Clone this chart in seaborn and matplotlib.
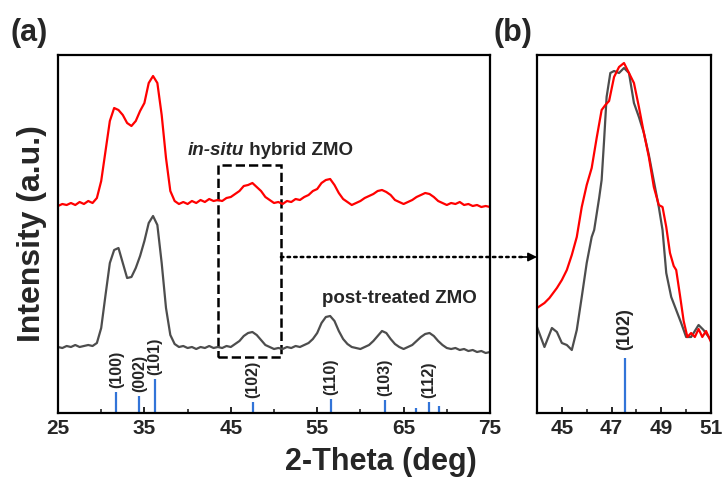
import numpy as np
import pandas as pd
import matplotlib
matplotlib.use("Agg")
import matplotlib.pyplot as plt
import seaborn as sns
from matplotlib.patches import Rectangle, ConnectionPatch
from matplotlib.ticker import FixedLocator

# panel (a): full scan, 25-75 deg in 0.5 deg steps
two_theta = np.arange(25.0, 75.01, 0.5)

hybrid_zmo = [207, 209, 208, 210, 208, 211, 209, 212, 210, 215,
              232, 262, 292, 305, 303, 298, 290, 287, 292, 302,
              310, 330, 337, 330, 298, 255, 222, 212, 209, 211,
              209, 212, 210, 213, 211, 214, 212, 213, 212, 215,
              216, 219, 222, 227, 228, 230, 226, 222, 216, 213,
              210, 211, 209, 212, 211, 214, 213, 216, 218, 222,
              224, 230, 233, 234, 228, 220, 214, 211, 208, 210,
              212, 215, 217, 219, 222, 223, 221, 218, 213, 211,
              209, 211, 213, 216, 218, 220, 219, 216, 212, 210,
              208, 210, 209, 211, 208, 209, 207, 208, 206, 207, 206]

post_zmo = [66, 65, 67, 66, 68, 66, 67, 68, 67, 70,
            85, 118, 150, 163, 165, 150, 135, 136, 145, 157,
            172, 190, 197, 188, 150, 105, 78, 69, 66, 67,
            65, 66, 64, 66, 65, 67, 65, 66, 65, 67,
            66, 69, 72, 77, 80, 81, 78, 73, 68, 66,
            64, 65, 64, 66, 65, 67, 66, 68, 70, 74,
            80, 90, 96, 97, 92, 82, 74, 69, 66, 65,
            64, 66, 68, 72, 77, 82, 80, 74, 69, 66,
            64, 66, 68, 72, 76, 79, 80, 77, 72, 68,
            65, 64, 65, 63, 64, 62, 63, 61, 62, 60, 61]

# reference ZnO reflections
ref_pos = [31.77, 34.42, 36.25, 47.54, 56.60, 62.86, 66.38, 67.96, 69.10]
ref_height = [21, 17, 34, 11, 14, 13, 5, 11, 7]
ref_label = ['(100)', '(002)', '(101)', '(102)', '(110)', '(103)', '', '(112)', '']

# panel (b): zoom on the (102) peak
zoom_x_red = [44.0, 44.3, 44.5, 44.8, 45.0, 45.2, 45.4, 45.6, 45.8, 46.0,
              46.2, 46.4, 46.6, 46.75, 46.9, 47.1, 47.3, 47.5, 47.7, 47.9,
              48.1, 48.3, 48.5, 48.7, 48.9, 49.05, 49.2, 49.35, 49.5, 49.6,
              49.75, 49.9, 50.05, 50.2, 50.35, 50.5, 50.65, 50.8, 51.0]
zoom_y_red = [105, 110, 115, 125, 133, 143, 158, 176, 206, 228,
              245, 275, 303, 308, 312, 336, 346, 350, 340, 330,
              306, 280, 256, 226, 208, 206, 186, 160, 147, 143,
              118, 92, 76, 80, 76, 84, 76, 82, 71]

zoom_x_gray = [44.0, 44.3, 44.6, 44.8, 45.0, 45.2, 45.4, 45.6, 45.8, 46.0,
               46.2, 46.3, 46.5, 46.6, 46.7, 46.8, 46.95, 47.1, 47.3, 47.5,
               47.7, 47.9, 48.1, 48.3, 48.5, 48.7, 48.9, 49.05, 49.2, 49.4,
               49.6, 49.8, 50.0, 50.2, 50.35, 50.5, 50.7, 50.85, 51.0]
zoom_y_gray = [86, 66, 85, 81, 70, 68, 63, 83, 116, 150,
               176, 183, 215, 233, 273, 316, 340, 342, 340, 345,
               340, 310, 296, 280, 258, 232, 206, 183, 140, 116,
               103, 90, 76, 76, 82, 88, 83, 78, 73]

zoom_ref_pos = [47.54]
zoom_ref_height = [55]

RED = '#ff0000'
GRAY = '#4d4d4d'
BLUE = '#3274d8'

sns.set_style('ticks')
plt.rcParams['font.family'] = ['Liberation Sans', 'DejaVu Sans']
plt.rcParams['font.weight'] = 'bold'

fig = plt.figure(figsize=(7.25, 4.79), dpi=100)
ax1 = fig.add_axes([58/725, 66/479, 432/725, 358/479])
ax2 = fig.add_axes([537/725, 66/479, 174/725, 358/479])

df_a = pd.DataFrame({'2theta': two_theta, 'hybrid': hybrid_zmo, 'post': post_zmo})
sns.lineplot(data=df_a, x='2theta', y='hybrid', ax=ax1, color=RED, lw=1.6)
sns.lineplot(data=df_a, x='2theta', y='post', ax=ax1, color=GRAY, lw=1.6)

ax1.vlines(ref_pos, 0, ref_height, color=BLUE, lw=1.6)
for p, h, lab in zip(ref_pos, ref_height, ref_label):
    if lab:
        ax1.annotate(lab, (p, h), xytext=(0, 3), textcoords='offset points',
                     rotation=90, ha='center', va='bottom', fontsize=11.5,
                     fontweight='bold')

ax1.add_patch(Rectangle((43.5, 56), 7.3, 192, fill=False, ls='--', lw=1.8,
                        color='black'))

ax1.text(46.5, 258, 'in-situ', ha='right', va='baseline', fontsize=13.5,
         fontweight='bold', fontstyle='italic')
ax1.text(46.5, 258, ' hybrid ZMO', ha='left', va='baseline', fontsize=13.5,
         fontweight='bold')
ax1.text(55.6, 110, 'post-treated ZMO', ha='left', va='baseline', fontsize=13.5,
         fontweight='bold')

ax1.set_xlim(25, 75)
ax1.set_ylim(0, 358)
ax1.set_xticks([25, 35, 45, 55, 65, 75])
ax1.xaxis.set_minor_locator(FixedLocator([30, 40, 50, 60, 70]))
ax1.set_yticks([])
ax1.set_xlabel('')
ax1.set_ylabel('Intensity (a.u.)', fontsize=23, fontweight='bold', labelpad=8)

sns.lineplot(x=zoom_x_gray, y=zoom_y_gray, ax=ax2, color=GRAY, lw=1.6)
sns.lineplot(x=zoom_x_red, y=zoom_y_red, ax=ax2, color=RED, lw=1.6)
ax2.vlines(zoom_ref_pos, 0, zoom_ref_height, color=BLUE, lw=1.6)
ax2.annotate('(102)', (zoom_ref_pos[0], zoom_ref_height[0]), xytext=(0, 6),
             textcoords='offset points', rotation=90, ha='center', va='bottom',
             fontsize=13, fontweight='bold')
ax2.set_xlim(44, 51)
ax2.set_ylim(0, 358)
ax2.set_xticks([45, 47, 49, 51])
ax2.xaxis.set_minor_locator(FixedLocator([46, 48, 50]))
ax2.set_yticks([])
ax2.set_xlabel('')
ax2.set_ylabel('')

for ax in (ax1, ax2):
    for s in ax.spines.values():
        s.set_visible(True)
        s.set_linewidth(1.6)
        s.set_color('black')
    ax.tick_params(axis='x', which='major', direction='in', length=4, width=1.4,
                   labelsize=15, pad=4)
    ax.tick_params(axis='x', which='minor', direction='in', length=3, width=1.2)
    for t in ax.get_xticklabels():
        t.set_fontweight('bold')

# dotted link from the box to panel (b), solid head at the end
link = ConnectionPatch(xyA=(50.8, 156), coordsA=ax1.transData,
                       xyB=(0, 156/358), coordsB=ax2.transAxes,
                       arrowstyle='-', ls=':', lw=1.8, color='black', shrinkB=8)
fig.add_artist(link)
ax2.annotate('', xy=(0, 156/358), xycoords='axes fraction',
             xytext=(-11, 0), textcoords='offset points', annotation_clip=False,
             arrowprops=dict(arrowstyle='-|>', color='black', lw=1.2,
                             mutation_scale=13, shrinkA=0, shrinkB=0))

fig.text(381/725, 1 - 462/479, '2-Theta (deg)', ha='center', va='center',
         fontsize=22, fontweight='bold')
fig.text(11/725, 1 - 33/479, '(a)', ha='left', va='center', fontsize=22,
         fontweight='bold')
fig.text(493/725, 1 - 33/479, '(b)', ha='left', va='center', fontsize=22,
         fontweight='bold')

fig.savefig('out.png', dpi=100)
